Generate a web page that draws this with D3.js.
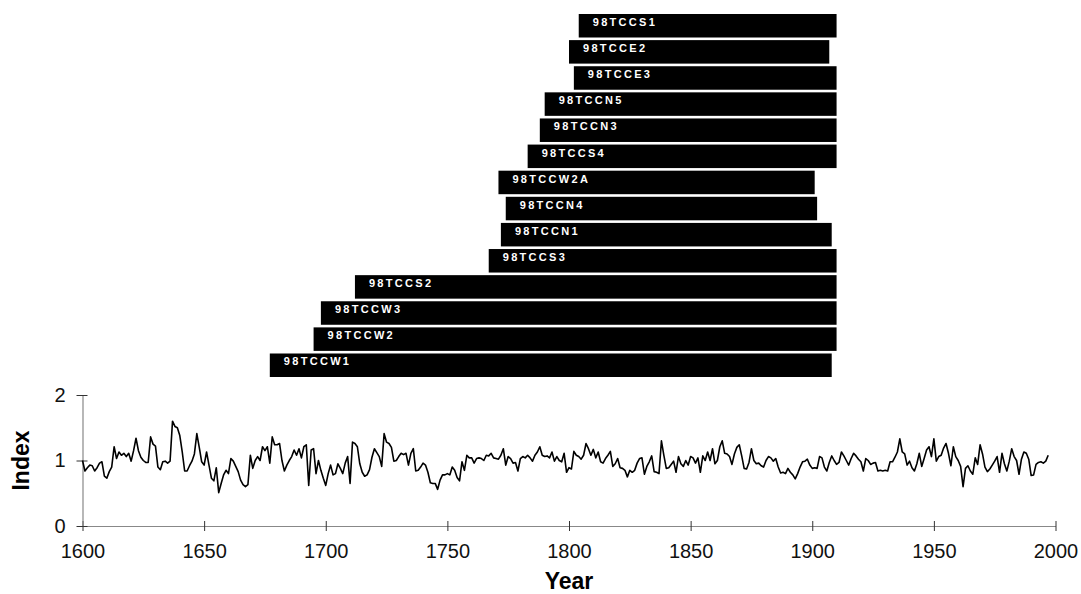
<!DOCTYPE html>
<html>
<head>
<meta charset="utf-8">
<script src="https://cdn.jsdelivr.net/npm/d3@7"></script>
<style>
  body { margin: 0; background: #fff; }
  svg { display: block; font-family: "Liberation Sans", Arial, sans-serif; }
</style>
</head>
<body>
<svg id="chart"></svg>
<script>
// series spans (bars on top)
let barNames = ["98TCCS1", "98TCCE2", "98TCCE3", "98TCCN5", "98TCCN3", "98TCCS4", "98TCCW2A",
                "98TCCN4", "98TCCN1", "98TCCS3", "98TCCS2", "98TCCW3", "98TCCW2", "98TCCW1"];
let barStart = [1804, 1800, 1802, 1790, 1788, 1783, 1771, 1774, 1772, 1767, 1712, 1698, 1695, 1677];
let barEnd   = [1910, 1907, 1910, 1910, 1910, 1910, 1901, 1902, 1908, 1910, 1910, 1910, 1910, 1908];

// index chronology, one value per year starting 1600
let firstYear = 1600;
let indexValues = [
  1.00, 0.84, 0.89, 0.93, 0.92, 0.84, 0.89, 0.96, 0.98, 0.76,
  0.73, 0.83, 0.90, 1.21, 1.03, 1.13, 1.08, 1.11, 1.06, 1.11,
  0.99, 1.15, 1.34, 1.15, 1.05, 1.00, 0.97, 0.97, 1.36, 1.25,
  1.22, 0.90, 0.86, 0.98, 0.99, 0.96, 0.99, 1.60, 1.52, 1.50,
  1.38, 1.13, 0.84, 0.84, 0.92, 0.99, 1.10, 1.41, 1.20, 0.98,
  0.93, 1.13, 0.93, 0.73, 0.69, 0.89, 0.51, 0.65, 0.78, 0.85,
  0.80, 1.03, 0.99, 0.91, 0.83, 0.70, 0.63, 0.60, 0.63, 1.08,
  0.88, 1.00, 1.06, 1.00, 1.21, 1.15, 1.21, 0.96, 1.36, 1.24,
  1.24, 1.26, 1.00, 0.84, 0.93, 1.00, 1.06, 1.16, 1.08, 1.18,
  1.04, 1.21, 1.24, 0.62, 1.16, 1.18, 0.80, 1.00, 0.85, 0.73,
  0.62, 0.80, 0.93, 0.78, 0.80, 0.95, 0.88, 0.80, 0.96, 1.06,
  0.65, 1.28, 1.26, 1.21, 0.95, 0.82, 0.76, 0.78, 0.86, 1.05,
  1.18, 1.12, 1.06, 0.91, 1.41, 1.28, 1.26, 1.20, 0.99, 1.00,
  1.06, 1.11, 1.09, 1.11, 0.93, 1.11, 1.18, 0.84, 0.85, 0.90,
  0.96, 0.93, 0.82, 0.66, 0.65, 0.65, 0.56, 0.70, 0.78, 0.78,
  0.80, 0.78, 0.90, 0.85, 0.74, 0.69, 0.98, 0.85, 1.08, 1.04,
  1.04, 0.96, 1.03, 1.04, 1.03, 1.00, 1.08, 1.07, 1.11, 1.04,
  1.03, 1.02, 1.08, 1.18, 0.93, 1.06, 1.03, 0.96, 0.97, 0.84,
  1.03, 1.06, 1.04, 1.08, 1.04, 0.99, 1.08, 1.13, 1.21, 1.08,
  1.06, 1.07, 1.04, 1.13, 0.99, 1.06, 1.00, 0.98, 1.11, 0.82,
  0.89, 0.87, 1.14, 1.08, 1.06, 1.02, 1.08, 1.26, 1.18, 1.08,
  1.17, 1.04, 1.13, 0.98, 0.96, 1.03, 1.08, 1.14, 0.91, 0.95,
  1.03, 0.89, 0.88, 0.85, 0.75, 0.85, 0.82, 0.85, 0.96, 1.03,
  1.04, 0.79, 0.91, 0.98, 1.07, 0.83, 0.82, 0.80, 1.30, 1.08,
  0.88, 0.89, 0.94, 0.99, 0.82, 1.06, 0.95, 0.91, 1.00, 0.93,
  1.06, 1.04, 0.96, 1.04, 0.82, 1.07, 1.00, 1.13, 1.00, 1.18,
  0.95, 1.00, 1.21, 1.30, 1.11, 1.10, 1.06, 0.94, 1.10, 1.20,
  1.24, 1.07, 0.88, 0.87, 0.97, 1.18, 1.00, 0.95, 0.96, 0.92,
  0.90, 1.00, 1.06, 1.04, 0.99, 1.03, 0.90, 0.81, 0.82, 0.80,
  0.88, 0.82, 0.78, 0.72, 0.80, 0.90, 0.98, 0.99, 1.02, 0.93,
  0.88, 0.89, 0.88, 1.06, 1.04, 0.90, 0.84, 0.97, 1.07, 1.00,
  0.94, 0.97, 1.13, 1.07, 1.00, 0.93, 1.03, 1.11, 1.07, 1.02,
  0.98, 0.84, 1.03, 1.00, 0.94, 0.96, 0.97, 0.84, 0.85, 0.84,
  0.85, 0.84, 0.98, 0.98, 1.05, 1.13, 1.33, 1.13, 1.10, 0.93,
  0.99, 0.89, 0.84, 0.95, 1.11, 0.91, 1.03, 1.16, 1.21, 1.06,
  1.33, 0.99, 1.06, 1.08, 1.19, 1.26, 1.11, 0.92, 1.21, 1.06,
  1.00, 0.91, 0.60, 0.88, 0.92, 0.84, 0.79, 1.04, 0.94, 1.24,
  1.10, 0.90, 0.83, 0.87, 0.93, 0.99, 1.06, 0.82, 1.11, 0.95,
  0.84, 0.99, 1.18, 1.06, 1.00, 0.79, 1.02, 1.13, 1.11, 1.02,
  0.77, 0.78, 0.94, 0.97, 0.98, 0.96, 0.99, 1.08
];

let xTicks = [1600, 1650, 1700, 1750, 1800, 1850, 1900, 1950, 2000];
let yTicks = [0, 1, 2];

let w = 1081;
let h = 594;

let svg = d3.select("#chart").attr("width", w).attr("height", h);

let xScale = d3.scaleLinear().domain([1600, 2000]).range([82.5, 1055.5]);
let yScale = d3.scaleLinear().domain([0, 2]).range([526, 395]);
let barScale = d3.scaleBand().domain(barNames).range([14, 377]).paddingInner(0.1);

let values = indexValues.map((v, i) => ({ year: firstYear + i, value: v }));

let drawBars = () => {
    let g = svg.append("g");
    g.selectAll("rect")
     .data(barNames)
     .enter()
     .append("rect")
     .attr("x", (d, i) => xScale(barStart[i]))
     .attr("y", (d) => barScale(d))
     .attr("width", (d, i) => xScale(barEnd[i]) - xScale(barStart[i]))
     .attr("height", barScale.bandwidth())
     .attr("fill", "#000")

    g.selectAll("text")
     .data(barNames)
     .enter()
     .append("text")
     .attr("x", (d, i) => xScale(barStart[i]) + 14)
     .attr("y", (d) => barScale(d) + 12)
     .attr("fill", "#fff")
     .attr("font-size", "11px")
     .attr("font-weight", "bold")
     .attr("letter-spacing", "2.3px")
     .text((d) => d)
}

let drawAxes = () => {
    let xAxis = d3.axisBottom(xScale).tickValues(xTicks).tickFormat(d3.format("d"))
                  .tickSizeInner(5).tickSizeOuter(0).tickPadding(13);
    let yAxis = d3.axisLeft(yScale).tickValues(yTicks).tickFormat(d3.format("d"))
                  .tickSizeInner(5).tickSizeOuter(0).tickPadding(12);

    let gx = svg.append("g").attr("transform", `translate(0, ${yScale(0)})`).call(xAxis);
    let gy = svg.append("g").attr("transform", `translate(${xScale(1600)}, 0)`).call(yAxis);

    [gx, gy].forEach((g) => {
        g.select(".domain").attr("stroke", "#888").attr("stroke-width", 1.2);
        g.selectAll(".tick text").attr("font-size", "20px").attr("fill", "#111")
         .attr("font-family", "'Liberation Sans', Arial, sans-serif");
    });
    // ticks cross the axis line
    gx.selectAll(".tick line").attr("y1", -5).attr("y2", 5).attr("stroke", "#333");
    gy.selectAll(".tick line").attr("x1", -6).attr("x2", 5).attr("stroke", "#333");
    gx.selectAll(".tick text").attr("dy", "0.71em");

    svg.append("text")
       .attr("x", (xScale(1600) + xScale(2000)) / 2)
       .attr("y", 589)
       .attr("text-anchor", "middle")
       .attr("font-size", "23px")
       .attr("font-weight", "bold")
       .text("Year")

    svg.append("text")
       .attr("transform", `translate(29, ${yScale(1)}) rotate(-90)`)
       .attr("text-anchor", "middle")
       .attr("font-size", "23px")
       .attr("font-weight", "bold")
       .text("Index")
}

let drawLine = () => {
    let line = d3.line()
                 .x((d) => xScale(d.year))
                 .y((d) => yScale(d.value));
    svg.append("path")
       .datum(values)
       .attr("d", line)
       .attr("fill", "none")
       .attr("stroke", "#000")
       .attr("stroke-width", 1.6)
       .attr("stroke-linejoin", "round")
}

drawBars()
drawAxes()
drawLine()
</script>
</body>
</html>
